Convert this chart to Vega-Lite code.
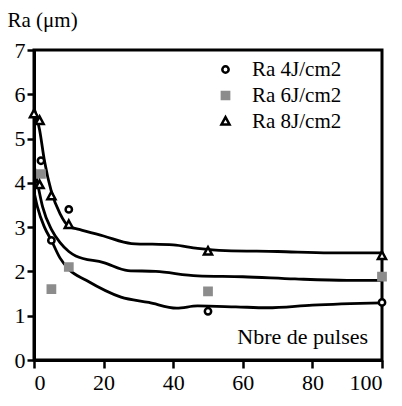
{
  "$schema": "https://vega.github.io/schema/vega-lite/v6.json",
  "width": 348,
  "height": 310,
  "autosize": "none",
  "padding": {"left": 34, "top": 50, "right": 20, "bottom": 46},
  "background": "white",
  "config": {
    "font": "Times New Roman",
    "view": {"stroke": "black", "strokeWidth": 3},
    "text": {"font": "Times New Roman"},
    "axis": {
      "domainColor": "black", "domainWidth": 3,
      "tickColor": "black", "tickWidth": 2.5,
      "labelColor": "black", "labelFont": "Times New Roman", "labelFontSize": 22,
      "titleFont": "Times New Roman",
      "grid": false
    },
    "legend": {"labelFont": "Times New Roman"}
  },
  "datasets": {
    "pts": [
      {"series": "Ra 4J/cm2", "pulses": 2, "ra": 4.5},
      {"series": "Ra 4J/cm2", "pulses": 5, "ra": 2.7},
      {"series": "Ra 4J/cm2", "pulses": 10, "ra": 3.4},
      {"series": "Ra 4J/cm2", "pulses": 50, "ra": 1.1},
      {"series": "Ra 4J/cm2", "pulses": 100, "ra": 1.3},
      {"series": "Ra 6J/cm2", "pulses": 2, "ra": 4.2},
      {"series": "Ra 6J/cm2", "pulses": 5, "ra": 1.6},
      {"series": "Ra 6J/cm2", "pulses": 10, "ra": 2.1},
      {"series": "Ra 6J/cm2", "pulses": 50, "ra": 1.55},
      {"series": "Ra 6J/cm2", "pulses": 100, "ra": 1.88},
      {"series": "Ra 8J/cm2", "pulses": 0, "ra": 5.55},
      {"series": "Ra 8J/cm2", "pulses": 1.6, "ra": 5.4},
      {"series": "Ra 8J/cm2", "pulses": 1.6, "ra": 3.95},
      {"series": "Ra 8J/cm2", "pulses": 5, "ra": 3.7},
      {"series": "Ra 8J/cm2", "pulses": 10, "ra": 3.05},
      {"series": "Ra 8J/cm2", "pulses": 50, "ra": 2.45},
      {"series": "Ra 8J/cm2", "pulses": 100, "ra": 2.35}
    ],
    "curves": [
      {"curve": "top", "pulses": 0, "ra": 5.7},
      {"curve": "top", "pulses": 1.6, "ra": 5.2},
      {"curve": "top", "pulses": 3, "ra": 4.5},
      {"curve": "top", "pulses": 5, "ra": 3.8},
      {"curve": "top", "pulses": 7.5, "ra": 3.3},
      {"curve": "top", "pulses": 10, "ra": 3.02},
      {"curve": "top", "pulses": 13, "ra": 2.95},
      {"curve": "top", "pulses": 20, "ra": 2.8},
      {"curve": "top", "pulses": 28, "ra": 2.63},
      {"curve": "top", "pulses": 40, "ra": 2.6},
      {"curve": "top", "pulses": 47, "ra": 2.52},
      {"curve": "top", "pulses": 55, "ra": 2.47},
      {"curve": "top", "pulses": 70, "ra": 2.45},
      {"curve": "top", "pulses": 85, "ra": 2.42},
      {"curve": "top", "pulses": 100, "ra": 2.42},
      {"curve": "mid", "pulses": 0, "ra": 4.4},
      {"curve": "mid", "pulses": 1, "ra": 4.0},
      {"curve": "mid", "pulses": 2.5, "ra": 3.45},
      {"curve": "mid", "pulses": 5, "ra": 2.95},
      {"curve": "mid", "pulses": 7.5, "ra": 2.65},
      {"curve": "mid", "pulses": 10, "ra": 2.45},
      {"curve": "mid", "pulses": 12, "ra": 2.35},
      {"curve": "mid", "pulses": 20, "ra": 2.2},
      {"curve": "mid", "pulses": 27, "ra": 2.02},
      {"curve": "mid", "pulses": 35, "ra": 2.0},
      {"curve": "mid", "pulses": 47, "ra": 1.9},
      {"curve": "mid", "pulses": 60, "ra": 1.88},
      {"curve": "mid", "pulses": 75, "ra": 1.83},
      {"curve": "mid", "pulses": 90, "ra": 1.8},
      {"curve": "mid", "pulses": 100, "ra": 1.8},
      {"curve": "low", "pulses": 0, "ra": 3.8},
      {"curve": "low", "pulses": 1, "ra": 3.45},
      {"curve": "low", "pulses": 3, "ra": 3.0},
      {"curve": "low", "pulses": 5, "ra": 2.7},
      {"curve": "low", "pulses": 7.5, "ra": 2.3},
      {"curve": "low", "pulses": 10, "ra": 2.05},
      {"curve": "low", "pulses": 15, "ra": 1.8},
      {"curve": "low", "pulses": 25, "ra": 1.42},
      {"curve": "low", "pulses": 33, "ra": 1.3},
      {"curve": "low", "pulses": 41, "ra": 1.17},
      {"curve": "low", "pulses": 47, "ra": 1.22},
      {"curve": "low", "pulses": 58, "ra": 1.2},
      {"curve": "low", "pulses": 67, "ra": 1.18},
      {"curve": "low", "pulses": 80, "ra": 1.24},
      {"curve": "low", "pulses": 100, "ra": 1.29}
    ]
  },
  "layer": [
    {
      "data": {"name": "curves"},
      "mark": {"type": "line", "color": "black", "strokeWidth": 2.8, "interpolate": "monotone", "clip": true},
      "encoding": {
        "x": {
          "field": "pulses", "type": "quantitative",
          "scale": {"domain": [0, 100], "nice": false, "zero": false},
          "axis": {
            "title": null,
            "values": [0, 10, 20, 30, 40, 50, 60, 70, 80, 90, 100],
            "labelExpr": "datum.value % 20 === 0 ? datum.label : ''",
            "tickSize": {"condition": {"test": "datum.value % 20 === 0", "value": 8}, "value": 5},
            "labelPadding": 4
          }
        },
        "y": {
          "field": "ra", "type": "quantitative",
          "scale": {"domain": [0, 7], "nice": false},
          "axis": {
            "title": "Ra (μm)",
            "titleAngle": 0,
            "titleX": -27,
            "titleY": -24,
            "titleAlign": "left",
            "titleBaseline": "alphabetic",
            "titleFontSize": 21,
            "titleFontWeight": "normal",
            "titleColor": "black",
            "values": [0, 0.5, 1, 1.5, 2, 2.5, 3, 3.5, 4, 4.5, 5, 5.5, 6, 6.5, 7],
            "labelExpr": "datum.value % 1 === 0 ? datum.label : ''",
            "tickSize": {"condition": {"test": "datum.value % 1 === 0", "value": 7}, "value": 4},
            "labelPadding": 2
          }
        },
        "detail": {"field": "curve"}
      }
    },
    {
      "data": {"name": "pts"},
      "mark": {"type": "point", "filled": false, "strokeWidth": 2.5, "opacity": 1},
      "encoding": {
        "x": {"field": "pulses", "type": "quantitative"},
        "y": {"field": "ra", "type": "quantitative"},
        "shape": {
          "field": "series", "type": "nominal",
          "scale": {"domain": ["Ra 4J/cm2", "Ra 6J/cm2", "Ra 8J/cm2"], "range": ["circle", "square", "M0,-1.1L1,0.75L-1,0.75Z"]},
          "legend": {
            "title": null,
            "orient": "none",
            "legendX": 181,
            "legendY": 9,
            "labelFontSize": 21,
            "labelColor": "black",
            "labelOffset": 16,
            "rowPadding": 4,
            "symbolStrokeWidth": 2.5,
            "symbolOpacity": 1
          }
        },
        "fill": {
          "field": "series", "type": "nominal",
          "scale": {"domain": ["Ra 4J/cm2", "Ra 6J/cm2", "Ra 8J/cm2"], "range": ["white", "#8c8c8c", "white"]}
        },
        "stroke": {
          "field": "series", "type": "nominal",
          "scale": {"domain": ["Ra 4J/cm2", "Ra 6J/cm2", "Ra 8J/cm2"], "range": ["black", "#8c8c8c", "black"]}
        },
        "size": {
          "field": "series", "type": "nominal",
          "scale": {"domain": ["Ra 4J/cm2", "Ra 6J/cm2", "Ra 8J/cm2"], "range": [40, 65, 240]}
        }
      }
    },
    {
      "data": {"values": [{"label": "Nbre de pulses"}]},
      "mark": {"type": "text", "fontSize": 22, "align": "right", "baseline": "alphabetic", "color": "black"},
      "encoding": {
        "x": {"datum": 96},
        "y": {"datum": 0.37},
        "text": {"field": "label", "type": "nominal"}
      }
    }
  ]
}
